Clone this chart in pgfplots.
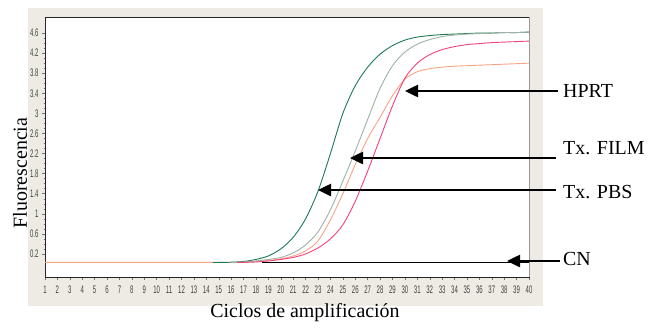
\documentclass[border=0pt]{standalone}
\usepackage{pgfplots}
\pgfplotsset{compat=1.18}
\usepackage{fontspec}
\setmainfont{Liberation Serif}
\newfontfamily\tickfont[FakeStretch=0.55]{Liberation Sans}
\newcommand\tf{\fontsize{11}{12}\tickfont}
\usetikzlibrary{arrows.meta}
\definecolor{panel}{HTML}{EEEBE4}
\definecolor{cgreen}{HTML}{1E7A52}
\definecolor{cgray}{HTML}{9FB2A8}
\definecolor{corange}{HTML}{F7A486}
\definecolor{cpink}{HTML}{F2437C}
\begin{document}
\begin{tikzpicture}[x=1bp,y=1bp]
\path (0,0) rectangle (654,327);
\fill[panel] (28,21) rectangle (543,319);
\begin{axis}[
  at={(45bp,50bp)}, anchor=south west,
  scale only axis, width=484bp, height=260bp,
  xmin=1, xmax=40, ymin=-0.26, ymax=4.92,
  axis background/.style={fill=white},
  axis line style={black!85, line width=0.9bp},
  xtick={1,...,40},
  xticklabel={\tf\pgfmathprintnumber{\tick}},
  ytick={0.2,0.6,1,1.4,1.8,2.2,2.6,3,3.4,3.8,4.2,4.6},
  yticklabels={\tf 0.2,\tf 0.6,\tf 1,\tf 1.4,\tf 1.8,\tf 2.2,\tf 2.6,\tf 3,\tf 3.4,\tf 3.8,\tf 4.2,\tf 4.6},
  minor y tick num=3,
  tick align=outside,
  major tick length=3bp, minor tick length=1.5bp,
  tick style={black!55, line width=0.4bp},
  ticklabel style={text=black!75, font=\tf},
  /pgf/number format/assume math mode=true,
  xtick pos=bottom, ytick pos=left,
  xticklabel style={yshift=-2bp},
  clip=true,
]
\addplot[corange, line width=0.9bp, smooth] coordinates {
(1,0.03)(2,0.03)(3,0.03)(4,0.03)(5,0.03)(6,0.03)(7,0.03)(8,0.03)(9,0.03)(10,0.03)(11,0.03)(12,0.03)(13,0.03)(14,0.03)(15,0.03)(16,0.03)(17,0.04)(18,0.05)(19,0.07)(20,0.1)(21,0.16)(22,0.26)(23,0.46)(24,0.88)(25,1.4)(26,1.98)(27,2.5)(28,2.92)(29,3.35)(30,3.68)(31,3.83)(32,3.89)(33,3.92)(34,3.94)(35,3.95)(36,3.96)(37,3.97)(38,3.98)(39,3.99)(40,4.0)};
\addplot[cgreen, line width=0.9bp, smooth] coordinates {
(14.5,0.03)(15,0.03)(16,0.035)(17,0.05)(18,0.09)(19,0.16)(20,0.3)(21,0.53)(22,0.9)(23,1.45)(24,2.2)(25,3.0)(26,3.55)(27,3.92)(28,4.18)(29,4.35)(30,4.46)(31,4.52)(32,4.55)(33,4.57)(34,4.58)(35,4.59)(36,4.6)(37,4.6)(38,4.61)(39,4.61)(40,4.62)};
\addplot[cgray, line width=0.9bp, smooth] coordinates {
(16,0.03)(17,0.04)(18,0.06)(19,0.09)(20,0.13)(21,0.22)(22,0.38)(23,0.64)(24,1.08)(25,1.65)(26,2.25)(27,2.88)(28,3.5)(29,3.95)(30,4.22)(31,4.38)(32,4.47)(33,4.53)(34,4.56)(35,4.58)(36,4.59)(37,4.6)(38,4.61)(39,4.61)(40,4.62)};
\addplot[cpink, line width=0.9bp, smooth] coordinates {
(16.5,0.03)(17,0.03)(18,0.04)(19,0.06)(20,0.09)(21,0.13)(22,0.2)(23,0.32)(24,0.5)(25,0.78)(26,1.25)(27,1.85)(28,2.5)(29,3.15)(30,3.7)(31,4.0)(32,4.17)(33,4.27)(34,4.33)(35,4.37)(36,4.39)(37,4.41)(38,4.42)(39,4.43)(40,4.44)};
\addplot[black, line width=0.9bp] coordinates {(18.5,0.025)(40,0.025)};
\end{axis}
\draw[black!40, line width=0.8bp] (529,50) -- (529,310);
\node[rotate=90, font=\fontsize{20}{24}\selectfont] at (20,154) {Fluorescencia};
\node[font=\fontsize{20}{24}\selectfont] at (305,14) {Ciclos de amplificación};
\begin{scope}[line width=2.5bp, -{Triangle[length=13bp,width=12bp]}]
\draw (558,236) -- (405,236);
\draw (556,169) -- (350,169);
\draw (556,137) -- (318,137);
\draw (560,66) -- (507,66);
\end{scope}
\begin{scope}[font=\fontsize{20}{24}\selectfont, anchor=west, inner sep=0pt]
\node at (563,236) {HPRT};
\node at (563,179) {Tx. FILM};
\node at (563,135) {Tx. PBS};
\node at (563,68) {CN};
\end{scope}
\end{tikzpicture}
\end{document}
